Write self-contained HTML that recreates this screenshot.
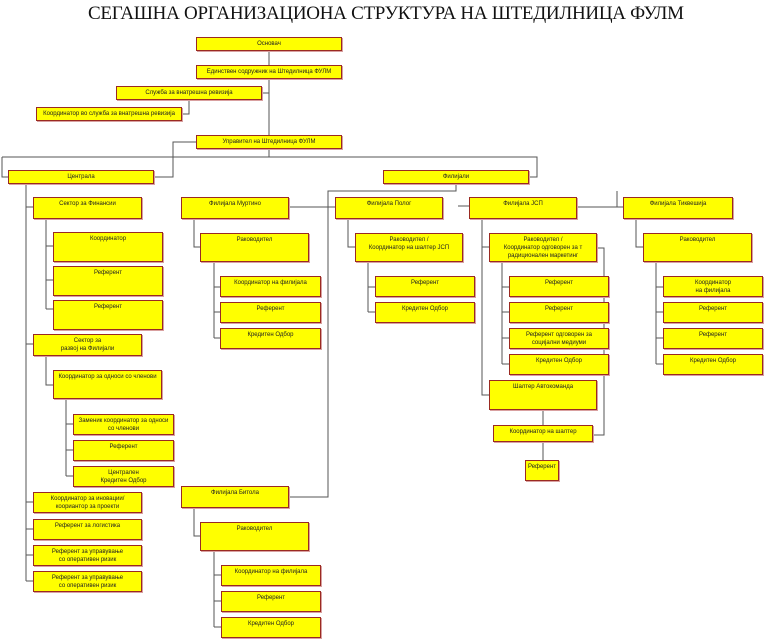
<!DOCTYPE html>
<html><head><meta charset="utf-8"><style>
html,body{margin:0;padding:0;background:#fff;}
body{width:768px;height:640px;position:relative;overflow:hidden;font-family:"Liberation Sans",sans-serif;}
.b{position:absolute;box-sizing:border-box;background:#ffff00;border:1px solid #9a2a22;box-shadow:1px 1px 0 #d9a0a0;font-size:6px;line-height:8px;text-align:center;color:#222;padding-top:2px;letter-spacing:0;white-space:nowrap;overflow:hidden;}
svg{position:absolute;left:0;top:0;}
</style></head><body>
<svg width="768" height="640">
<text x="88" y="19" textLength="596" font-family="Liberation Serif" font-size="19" fill="#111">СЕГАШНА ОРГАНИЗАЦИОНА СТРУКТУРА НА ШТЕДИЛНИЦА ФУЛМ</text>
<g stroke="#555" stroke-width="1" fill="none">
<path d="M269 51V157M262 93H269M189 100V114H182"/>
<path d="M2 157H537V177H529M2 157V177H8M196 142H173V177H154"/>
<path d="M456 184V191H328V497H289M617 191V207H623M289 207H335M458 206H469M577 207H623"/>
<path d="M26 184V581M26 207H33M26 344H33M26 502H33M26 529H33M26 555H33M26 581H33"/>
<path d="M46 219V309M46 246H53M46 280H53M46 309H53"/>
<path d="M194 219V247H200M214 262V338M214 287H220M214 312H220M214 338H220"/>
<path d="M348 219V247H355M368 262V312M368 287H375M368 312H375"/>
<path d="M482 219V395H489M482 247H489M502 262V364M502 287H509M502 312H509M502 338H509M502 364H509M597 248H604V435H593M543 410V425M543 442V460"/>
<path d="M636 219V247H643M656 262V364M656 287H663M656 312H663M656 338H663M656 364H663"/>
<path d="M46 356V385H53M66 399V476M66 424H73M66 450H73M66 476H73"/>
<path d="M194 508V536H200M214 551V627M214 575H221M214 601H221M214 627H221"/>
</g></svg>
<div class="b" style="left:196px;top:37px;width:146px;height:14px">Основач</div>
<div class="b" style="left:196px;top:65px;width:146px;height:14px">Единствен содружник на Штедилница ФУЛМ</div>
<div class="b" style="left:116px;top:86px;width:146px;height:14px">Служба за внатрешна ревизија</div>
<div class="b" style="left:36px;top:107px;width:146px;height:14px">Координатор во служба за внатрешна ревизија</div>
<div class="b" style="left:196px;top:135px;width:146px;height:14px">Управител на Штедилница ФУЛМ</div>
<div class="b" style="left:8px;top:170px;width:146px;height:14px">Централа</div>
<div class="b" style="left:383px;top:170px;width:146px;height:14px">Филијали</div>
<div class="b" style="left:33px;top:197px;width:109px;height:22px">Сектор за Финансии</div>
<div class="b" style="left:181px;top:197px;width:108px;height:22px">Филијала Муртино</div>
<div class="b" style="left:335px;top:197px;width:108px;height:22px">Филијала Полог</div>
<div class="b" style="left:469px;top:197px;width:108px;height:22px">Филијала ЈСП</div>
<div class="b" style="left:623px;top:197px;width:110px;height:22px">Филијала Тиквешија</div>
<div class="b" style="left:53px;top:232px;width:110px;height:30px">Координатор</div>
<div class="b" style="left:53px;top:266px;width:110px;height:30px">Референт</div>
<div class="b" style="left:53px;top:300px;width:110px;height:30px">Референт</div>
<div class="b" style="left:200px;top:233px;width:109px;height:29px">Раководител</div>
<div class="b" style="left:355px;top:233px;width:108px;height:29px">Раководител /<br>Координатор на шалтер ЈСП</div>
<div class="b" style="left:489px;top:233px;width:108px;height:29px">Раководител /<br>Координатор одговорен за т<br>радиционален маркетинг</div>
<div class="b" style="left:643px;top:233px;width:109px;height:29px">Раководител</div>
<div class="b" style="left:220px;top:276px;width:101px;height:21px">Координатор на филијала</div>
<div class="b" style="left:220px;top:302px;width:101px;height:21px">Референт</div>
<div class="b" style="left:220px;top:328px;width:101px;height:21px">Кредитен Одбор</div>
<div class="b" style="left:375px;top:276px;width:100px;height:21px">Референт</div>
<div class="b" style="left:375px;top:302px;width:100px;height:21px">Кредитен Одбор</div>
<div class="b" style="left:509px;top:276px;width:100px;height:21px">Референт</div>
<div class="b" style="left:509px;top:302px;width:100px;height:21px">Референт</div>
<div class="b" style="left:509px;top:328px;width:100px;height:21px">Референт одговорен за<br>социјални медиуми</div>
<div class="b" style="left:509px;top:354px;width:100px;height:21px">Кредитен Одбор</div>
<div class="b" style="left:663px;top:276px;width:100px;height:21px">Координатор<br>на филијала</div>
<div class="b" style="left:663px;top:302px;width:100px;height:21px">Референт</div>
<div class="b" style="left:663px;top:328px;width:100px;height:21px">Референт</div>
<div class="b" style="left:663px;top:354px;width:100px;height:21px">Кредитен Одбор</div>
<div class="b" style="left:33px;top:334px;width:109px;height:22px">Сектор за<br>развој на Филијали</div>
<div class="b" style="left:53px;top:370px;width:109px;height:29px">Координатор за односи со членови</div>
<div class="b" style="left:73px;top:414px;width:101px;height:21px">Заменик координатор за односи<br>со членови</div>
<div class="b" style="left:73px;top:440px;width:101px;height:21px">Референт</div>
<div class="b" style="left:73px;top:466px;width:101px;height:21px">Централен<br>Кредитен Одбор</div>
<div class="b" style="left:33px;top:492px;width:109px;height:21px">Координатор за иновации/<br>коориантор за проекти</div>
<div class="b" style="left:33px;top:519px;width:109px;height:21px">Референт за логистика</div>
<div class="b" style="left:33px;top:545px;width:109px;height:21px">Референт за управување<br>со оперативен ризик</div>
<div class="b" style="left:33px;top:571px;width:109px;height:21px">Референт за управување<br>со оперативен ризик</div>
<div class="b" style="left:489px;top:380px;width:108px;height:30px">Шалтер Автокоманда</div>
<div class="b" style="left:493px;top:425px;width:100px;height:17px">Координатор на шалтер</div>
<div class="b" style="left:525px;top:460px;width:34px;height:21px">Референт</div>
<div class="b" style="left:181px;top:486px;width:108px;height:22px">Филијала Битола</div>
<div class="b" style="left:200px;top:522px;width:109px;height:29px">Раководител</div>
<div class="b" style="left:221px;top:565px;width:100px;height:21px">Координатор на филијала</div>
<div class="b" style="left:221px;top:591px;width:100px;height:21px">Референт</div>
<div class="b" style="left:221px;top:617px;width:100px;height:21px">Кредитен Одбор</div>
</body></html>
